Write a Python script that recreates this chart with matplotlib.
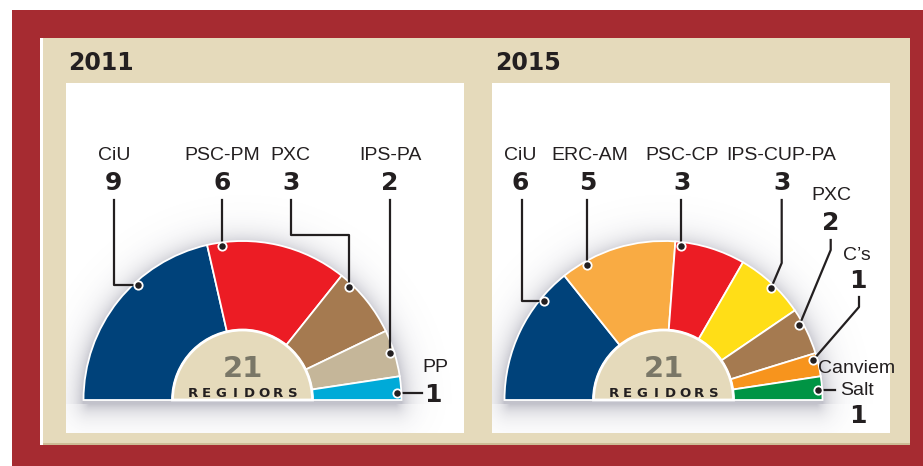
import numpy as np
import matplotlib
matplotlib.use('Agg')
import matplotlib.pyplot as plt
from matplotlib.patches import Wedge, Rectangle

W, H = 923, 466

# ---------------- data ----------------
years = ['2011', '2015']
parties_2011 = ['CiU', 'PSC-PM', 'PXC', 'IPS-PA', 'PP']
seats_2011 = [9, 6, 3, 2, 1]
colors_2011 = ['#00427A', '#EC1C24', '#A57A50', '#C5B699', '#00AAD8']
parties_2015 = ['CiU', 'ERC-AM', 'PSC-CP', 'IPS-CUP-PA', 'PXC', 'C\u2019s', 'Canviem\nSalt']
seats_2015 = [6, 5, 3, 3, 2, 1, 1]
colors_2015 = ['#00427A', '#F9AB43', '#EC1C24', '#FFDE17', '#A57A50', '#F7941D', '#009444']
center_word = 'REGIDORS'

# ---------------- layout (pixels, y down) ----------------
RED = '#A62B31'
CREAM = '#E5DABB'
INK = '#231F20'
GREY = '#7A7767'

charts = [
    dict(cx=242.5, base=400, R=159, r=70, title_x=68, panel=(66, 83, 464, 433),
         labels=[
             dict(name=(114, 160), num=(113, 190), start=(114, 200), mode='vh', frac=0.62),
             dict(name=(222, 160), num=(222, 190), start=(222, 200), mode='v', frac=0.10),
             dict(name=(290, 160), num=(291, 190), start=(291, 200), mode='vhv', elbow=235, frac=0.18),
             dict(name=(390, 160), num=(390, 190), start=(390, 200), mode='v', frac=0.47),
             dict(name=(435, 372), num=(433, 402), mode='h', end=422, frac=0.70),
         ]),
    dict(cx=663.5, base=400, R=159, r=70, title_x=495, panel=(492, 83, 890, 433),
         labels=[
             dict(name=(520, 160), num=(520, 190), start=(521.7, 200), mode='vh', frac=0.775),
             dict(name=(590, 160), num=(588, 190), start=(588, 200), mode='v', frac=0.21),
             dict(name=(682, 160), num=(682, 190), start=(682, 200), mode='v', frac=0.09),
             dict(name=(781, 160), num=(782, 190), start=(781.7, 200), mode='vd', elbow=263, frac=0.54),
             dict(name=(831, 200), num=(831, 230), start=(830.7, 240), mode='vd', elbow=250, frac=0.32),
             dict(name=(857, 260), num=(858, 288), start=(859, 297), mode='vd', elbow=307, frac=0.25),
             dict(name=(857, 373), num=(858, 423), mode='h', end=835, frac=0.57),
         ]),
]
datasets = [(parties_2011, seats_2011, colors_2011), (parties_2015, seats_2015, colors_2015)]

fig = plt.figure(figsize=(W / 100, H / 100), dpi=100)
ax = fig.add_axes([0, 0, 1, 1])
ax.set_xlim(0, W)
ax.set_ylim(0, H)
ax.axis('off')


def Y(y):
    return H - y


def rect(x0, y0, x1, y1, **kw):
    ax.add_patch(Rectangle((x0, Y(y1)), x1 - x0, y1 - y0, lw=0, **kw))


# frame
rect(12, 10, W, H, fc=RED, zorder=0)
rect(40, 38, 910, 445, fc='white', zorder=0)
rect(43, 38, 910, 445, fc=CREAM, zorder=0)
rect(43, 442.5, 910, 445, fc='#CDBB95', zorder=0)

NAME_FONT = dict(family=['Liberation Sans', 'DejaVu Sans'], fontsize=14, color=INK)
NUM_FONT = dict(family='DejaVu Sans', fontweight='bold', fontsize=18, color=INK)

for year, ch, (parties, seats, colors) in zip(years, charts, datasets):
    x0, y0, x1, y1 = ch['panel']
    rect(x0, y0, x1, y1, fc='white', zorder=0.5)
    ax.text(ch['title_x'], Y(70), year, ha='left', va='baseline',
            family='DejaVu Sans', fontweight='bold', fontsize=17, color=INK, zorder=4)

    cx, base, R, r = ch['cx'], ch['base'], ch['R'], ch['r']

    # soft shadow
    xs = np.arange(x0, x1) + 0.5
    ys = np.arange(y0, y1) + 0.5
    X, Yp = np.meshgrid(xs, ys)
    yb = base + 4
    dx = X - cx
    dy = yb - Yp
    rr = np.hypot(dx, dy)
    d_above = np.maximum(rr - R, 0)
    d_below = np.hypot(np.maximum(np.abs(dx) - R + 6, 0), dy)
    d = np.where(dy >= 0, d_above, d_below)
    alpha = 0.38 * np.exp(-d / 11.0)
    img = np.zeros(X.shape + (4,))
    img[..., 0] = 95 / 255
    img[..., 1] = 95 / 255
    img[..., 2] = 118 / 255
    img[..., 3] = alpha
    ax.imshow(img, extent=(x0, x1, Y(y1), Y(y0)), origin='upper', zorder=1,
              interpolation='bilinear', aspect='auto')

    total = sum(seats)
    cum = np.concatenate([[0], np.cumsum(seats)])
    starts = 180 - 180 * cum[:-1] / total
    ends = 180 - 180 * cum[1:] / total
    for s, e, c in zip(starts, ends, colors):
        ax.add_patch(Wedge((cx, Y(base)), R, e, s, width=R - r, fc=c, ec='white', lw=1.3, zorder=2))
    ax.add_patch(Wedge((cx, Y(base)), r, 0, 180, fc=CREAM, ec='white', lw=2, zorder=3))

    ax.text(cx, Y(377), str(total), ha='center', va='baseline', family='DejaVu Sans',
            fontweight='bold', fontsize=21, color=GREY, zorder=4)
    n = len(center_word)
    step = 14.3
    for i, ch_letter in enumerate(center_word):
        ax.text(cx + (i - (n - 1) / 2) * step, Y(397), ch_letter, ha='center', va='baseline',
                family='DejaVu Sans', fontweight='bold', fontsize=9.5, color=INK, zorder=4)

    rd = 0.975 * R
    for party, seat, s, e, lab in zip(parties, seats, starts, ends, ch['labels']):
        ang = np.deg2rad(s - lab['frac'] * (s - e))
        dxp = cx + rd * np.cos(ang)
        dyp = base - rd * np.sin(ang)
        nx, ny = lab['name']
        for k, line in enumerate(party.split('\n')):
            ax.text(nx, Y(ny + 22 * k), line, ha='center', va='baseline', zorder=4, **NAME_FONT)
        ax.text(lab['num'][0], Y(lab['num'][1]), str(seat), ha='center', va='baseline',
                zorder=4, **NUM_FONT)
        mode = lab['mode']
        if mode == 'h':
            pts = [(dxp, dyp), (lab['end'], dyp)]
        else:
            sx, sy = lab['start']
            if mode == 'v':
                pts = [(dxp, sy), (dxp, dyp)]
            elif mode == 'vh':
                pts = [(sx, sy), (sx, dyp), (dxp, dyp)]
            elif mode == 'vhv':
                pts = [(sx, sy), (sx, lab['elbow']), (dxp, lab['elbow']), (dxp, dyp)]
            else:  # 'vd'
                pts = [(sx, sy), (sx, lab['elbow']), (dxp, dyp)]
        px = [p[0] for p in pts]
        py = [Y(p[1]) for p in pts]
        ax.plot(px, py, color=INK, lw=1.6, solid_joinstyle='round', zorder=5)
        ax.plot([dxp], [Y(dyp)], marker='o', ms=6, mfc=INK, mec='white', mew=1.3, zorder=6)

fig.savefig('out.png', dpi=100)
